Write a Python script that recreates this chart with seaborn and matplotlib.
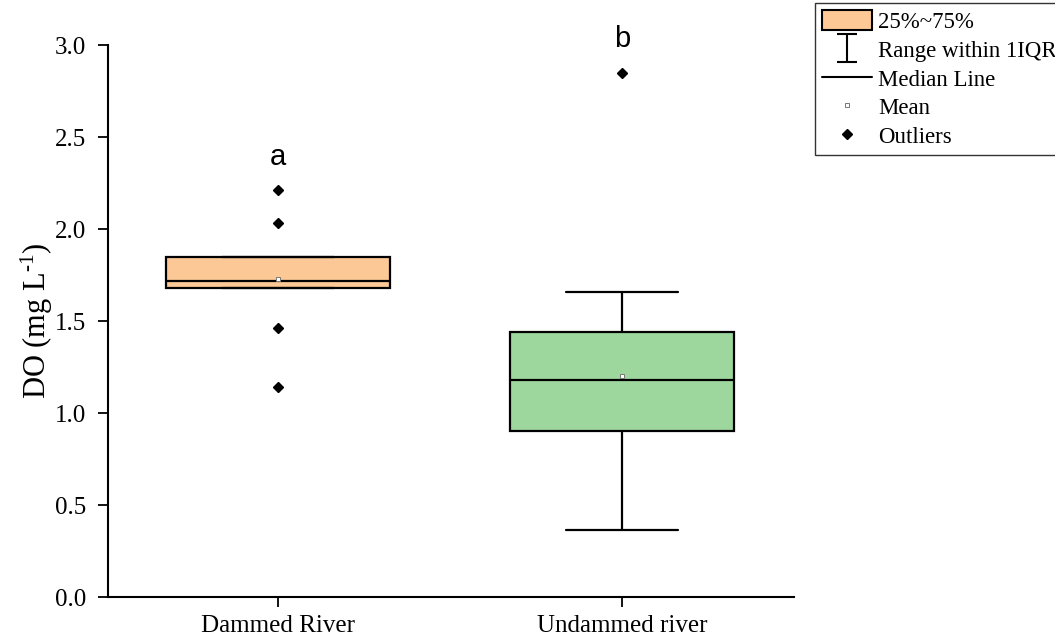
import numpy as np
import pandas as pd
import matplotlib
matplotlib.use("Agg")
import matplotlib.pyplot as plt
from matplotlib.path import Path
from matplotlib.lines import Line2D
from matplotlib.patches import Patch
import seaborn as sns

# Dissolved oxygen samples per river type (mg/L)
dammed_do = [1.14, 1.46, 1.68, 1.70, 1.72, 1.78, 1.85, 2.03, 2.21]
undammed_do = [0.362, 0.45, 0.70, 0.90, 0.95, 1.05, 1.18, 1.22, 1.32,
               1.44, 1.52, 1.66, 2.85]
groups = ["Dammed River", "Undammed river"]
box_colors = ["#FBC896", "#9DD79D"]
sig_letters = ["a", "b"]
letter_y = [2.39, 3.03]
y_ticks = [0.0, 0.5, 1.0, 1.5, 2.0, 2.5, 3.0]

df = pd.DataFrame({
    "group": [groups[0]] * len(dammed_do) + [groups[1]] * len(undammed_do),
    "DO": dammed_do + undammed_do,
})

sns.set_theme(style="ticks")
plt.rcParams["font.family"] = ["Liberation Serif", "DejaVu Serif"]
plt.rcParams["mathtext.default"] = "regular"
plt.rcParams["text.color"] = "black"
plt.rcParams["axes.labelcolor"] = "black"

fig = plt.figure(figsize=(10.55, 6.38), dpi=100)
ax = fig.add_axes([108 / 1055, 41 / 638, (794 - 108) / 1055, (597 - 45) / 638])

sns.boxplot(
    data=df, x="group", y="DO", hue="group", order=groups, hue_order=groups,
    palette=box_colors, saturation=1, legend=False, ax=ax,
    width=0.65, whis=1.0, linecolor="black", linewidth=1.6,
    showmeans=True,
    meanprops=dict(marker="s", markersize=3.2, markerfacecolor="white",
                   markeredgecolor="#777777", markeredgewidth=0.7),
    flierprops=dict(marker="D", markersize=5.5, markerfacecolor="black",
                    markeredgecolor="black"),
)

ax.set_xlim(-0.494, 1.5)
ax.set_ylim(0, 3.0)
ax.set_yticks(y_ticks)
ax.set_yticklabels([f"{t:.1f}" for t in y_ticks])
ax.set_xlabel("")
ax.set_ylabel("DO (mg L$^{\u20101}$)", fontsize=22, labelpad=0, color="black")
ax.tick_params(axis="both", direction="out", length=7, width=1.3,
               labelsize=18, color="black", labelcolor="black")
ax.tick_params(axis="y", pad=9)
ax.tick_params(axis="x", pad=6)
for side in ["top", "right"]:
    ax.spines[side].set_visible(False)
for side in ["left", "bottom"]:
    ax.spines[side].set_linewidth(1.5)
    ax.spines[side].set_color("black")

for i, letter in enumerate(sig_letters):
    ax.text(i, letter_y[i], letter, ha="center", va="center", fontsize=21,
            color="black", family=["Liberation Sans", "DejaVu Sans"], clip_on=False)

# I-beam glyph for the whisker legend entry
ibeam = Path(
    [(-0.7, 1), (0.7, 1), (0, 1), (0, -1), (-0.7, -1), (0.7, -1)],
    [Path.MOVETO, Path.LINETO, Path.MOVETO, Path.LINETO, Path.MOVETO, Path.LINETO],
)
handles = [
    Patch(facecolor=box_colors[0], edgecolor="black", linewidth=1.5),
    Line2D([], [], linestyle="none", marker=ibeam, markersize=20,
           markeredgecolor="black", markeredgewidth=1.5),
    Line2D([], [], color="black", linewidth=1.5),
    Line2D([], [], linestyle="none", marker="s", markersize=3.2,
           markerfacecolor="white", markeredgecolor="#777777", markeredgewidth=0.7),
    Line2D([], [], linestyle="none", marker="D", markersize=5.5, color="black"),
]
labels = ["25%~75%", "Range within 1IQR", "Median Line", "Mean", "Outliers"]
leg = fig.legend(handles, labels, loc="upper left", bbox_to_anchor=(815 / 1055, 1 - 3 / 638),
                 fontsize=16.5, frameon=True, fancybox=False, edgecolor="black",
                 handlelength=2.2, handleheight=1.0, handletextpad=0.25,
                 labelspacing=0.25, borderpad=0.3, borderaxespad=0, labelcolor="black")
leg.get_frame().set_linewidth(1.0)

fig.savefig("out.png", dpi=100)
